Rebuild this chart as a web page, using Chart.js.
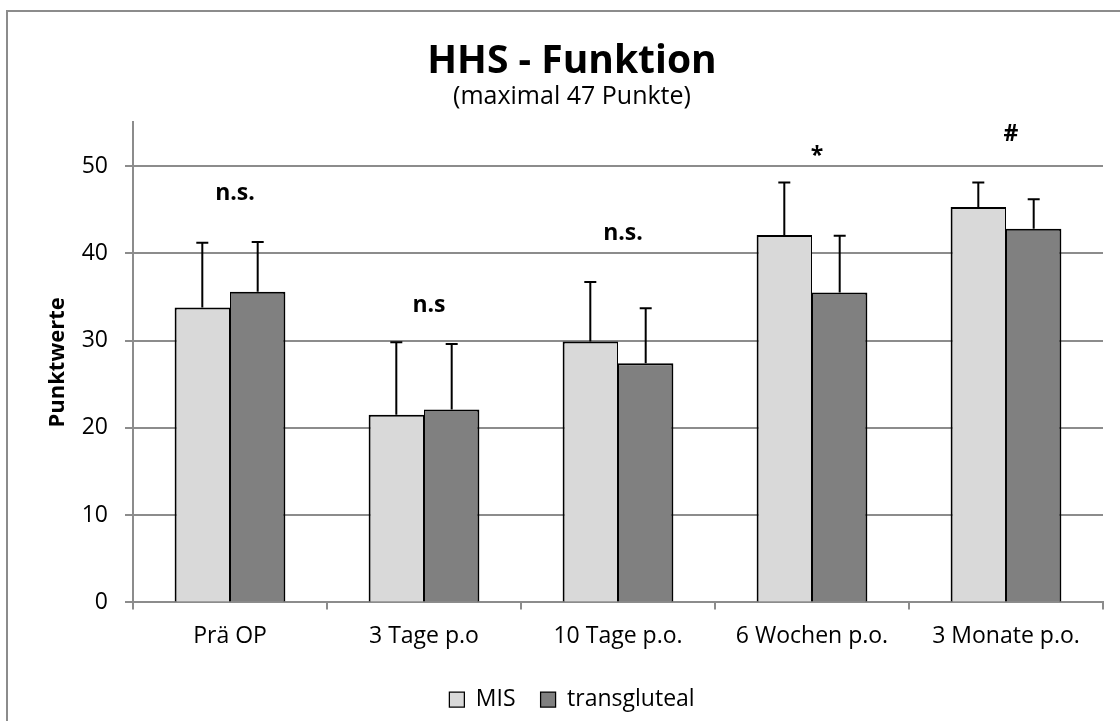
<!DOCTYPE html>
<html>
<head>
<meta charset="utf-8">
<script src="https://cdn.jsdelivr.net/npm/chart.js@4"></script>
<style>
    body { margin: 0; background: #fff; overflow: hidden; }
    #wrap {
        position: absolute;
        left: 6px;
        top: 10px;
        width: 1128px;
        height: 709px;
        border-top: 2px solid #8c8c8c;
        border-left: 2px solid #8c8c8c;
    }
</style>
</head>
<body>
<div id="wrap"><canvas id="chart" width="1128" height="709"></canvas></div>
<script>
const categories = ["Prä OP", "3 Tage p.o", "10 Tage p.o.", "6 Wochen p.o.", "3 Monate p.o."];
const misValues = [33.8, 21.5, 29.9, 42.1, 45.3];
const misErrors = [7.4, 8.3, 6.8, 6.0, 2.8];
const transValues = [35.6, 22.1, 27.4, 35.5, 42.8];
const transErrors = [5.7, 7.5, 6.3, 6.5, 3.4];
const sigLabels = ["n.s.", "n.s", "n.s.", "*", "#"];
const sigLevels = [46.1, 33.3, 41.5, 50.4, 52.9];
const yTicks = [0, 10, 20, 30, 40, 50];

const FONT = "'Open Sans', sans-serif";
const gridColor = "#8c8c8c";

// upward error bars with a cap
const errorBars = {
    id: "errorBars",
    afterDatasetsDraw(chart) {
        const ctx = chart.ctx;
        const yScale = chart.scales.y;
        const errs = [misErrors, transErrors];
        ctx.save();
        ctx.strokeStyle = "#000";
        ctx.lineWidth = 2;
        chart.data.datasets.forEach((ds, d) => {
            chart.getDatasetMeta(d).data.forEach((bar, i) => {
                const top = yScale.getPixelForValue(ds.data[i] + errs[d][i]);
                ctx.beginPath();
                ctx.moveTo(bar.x, bar.y);
                ctx.lineTo(bar.x, top);
                ctx.moveTo(bar.x - 6, top);
                ctx.lineTo(bar.x + 6, top);
                ctx.stroke();
            });
        });
        ctx.restore();
    }
};

// significance marks above each group
const sigMarks = {
    id: "sigMarks",
    afterDatasetsDraw(chart) {
        const ctx = chart.ctx;
        const xScale = chart.scales.x;
        const yScale = chart.scales.y;
        ctx.save();
        ctx.fillStyle = "#000";
        ctx.font = "bold 23px " + FONT;
        ctx.textAlign = "center";
        ctx.textBaseline = "alphabetic";
        sigLabels.forEach((t, i) => {
            ctx.fillText(t, xScale.getPixelForValue(i) + 5, yScale.getPixelForValue(sigLevels[i]));
        });
        ctx.restore();
    }
};

new Chart(document.getElementById("chart"), {
    type: "bar",
    data: {
        labels: categories,
        datasets: [
            {
                label: "MIS",
                data: misValues,
                backgroundColor: "#d9d9d9",
                borderColor: "#000",
                borderWidth: { top: 2, left: 2, right: 1, bottom: 0 }
            },
            {
                label: "transgluteal",
                data: transValues,
                backgroundColor: "#808080",
                borderColor: "#000",
                borderWidth: { top: 2, left: 1, right: 2, bottom: 0 }
            }
        ]
    },
    options: {
        responsive: false,
        animation: false,
        layout: { padding: { top: 0, right: 33, bottom: 0, left: 33 } },
        datasets: {
            bar: { categoryPercentage: 0.571, barPercentage: 1.0 }
        },
        plugins: {
            title: {
                display: true,
                text: "HHS - Funktion",
                color: "#000",
                font: { family: FONT, size: 39, weight: "bold", lineHeight: 1.1 },
                padding: { top: 28, bottom: 0 }
            },
            subtitle: {
                display: true,
                text: "(maximal 47 Punkte)",
                color: "#000",
                font: { family: FONT, size: 25, lineHeight: 1.1 },
                padding: { top: 0, bottom: 12 }
            },
            legend: {
                position: "bottom",
                labels: {
                    color: "#000",
                    font: { family: FONT, size: 23 },
                    boxWidth: 15,
                    boxHeight: 15,
                    padding: 25
                }
            },
            tooltip: { enabled: false }
        },
        scales: {
            x: {
                grid: {
                    drawOnChartArea: false,
                    drawTicks: true,
                    tickLength: 7,
                    color: gridColor,
                    lineWidth: 2
                },
                border: { color: gridColor, width: 2 },
                ticks: {
                    color: "#000",
                    font: { family: FONT, size: 23 },
                    padding: 13,
                    maxRotation: 0
                }
            },
            y: {
                min: 0,
                max: 55,
                afterBuildTicks: scale => {
                    scale.ticks = yTicks.map(v => ({ value: v }));
                },
                afterFit: scale => {
                    scale.width = 92;
                },
                grid: {
                    color: gridColor,
                    lineWidth: 2,
                    tickLength: 8
                },
                border: { color: gridColor, width: 2 },
                ticks: {
                    color: "#000",
                    font: { family: FONT, size: 23 },
                    padding: 17
                },
                title: {
                    display: true,
                    text: "Punktwerte",
                    color: "#000",
                    font: { family: FONT, size: 22, weight: "bold" },
                    padding: { top: 4, bottom: 0 }
                }
            }
        }
    },
    plugins: [errorBars, sigMarks]
});
</script>
</body>
</html>
